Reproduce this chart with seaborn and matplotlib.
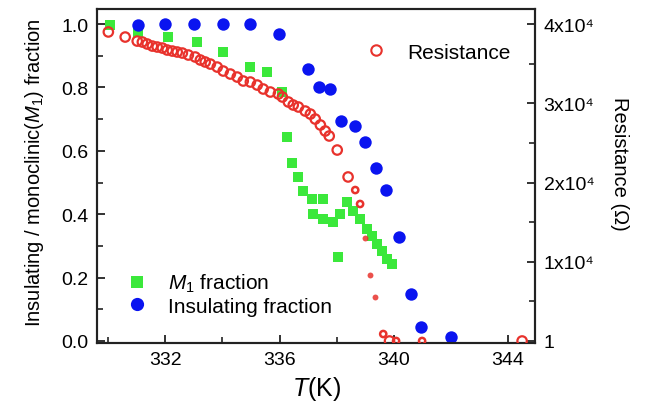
import matplotlib
matplotlib.use('Agg')
import matplotlib.pyplot as plt
import seaborn as sns
import pandas as pd
from matplotlib.lines import Line2D
from matplotlib.ticker import MultipleLocator, FixedLocator, FixedFormatter

# ---------------- data ----------------
insulating_T = [331.05, 331.99, 333.00, 334.02, 334.97, 335.98, 336.99, 337.38, 337.76,
                338.15, 338.64, 338.99, 339.37, 339.72, 340.17, 340.59, 340.94, 341.99]
insulating_frac = [0.997, 1.0, 1.0, 1.0, 1.0, 0.969, 0.858, 0.80, 0.796,
                   0.695, 0.679, 0.629, 0.547, 0.475, 0.327, 0.148, 0.044, 0.013]

m1_T = [330.07, 331.05, 332.10, 333.11, 334.02, 334.97, 335.56, 336.08, 336.26, 336.43,
        336.64, 336.82, 337.13, 337.52, 337.17, 337.52, 337.87, 338.11, 338.36, 338.57,
        338.81, 339.06, 339.23, 339.41, 339.58, 339.76, 339.93, 338.04]
m1_frac = [0.997, 0.975, 0.959, 0.943, 0.912, 0.865, 0.849, 0.786, 0.645, 0.563,
           0.516, 0.472, 0.447, 0.447, 0.400, 0.384, 0.374, 0.400, 0.437, 0.409,
           0.384, 0.352, 0.330, 0.305, 0.283, 0.258, 0.242, 0.264]

resistance_T = [330.01, 330.60, 331.02, 331.20, 331.37, 331.55, 331.72, 331.90, 332.07,
                332.25, 332.42, 332.60, 332.81, 333.05, 333.23, 333.40, 333.58, 333.82,
                334.03, 334.28, 334.52, 334.73, 334.98, 335.22, 335.43, 335.68, 335.96,
                336.10, 336.31, 336.48, 336.66, 336.90, 337.08, 337.25, 337.43, 337.60,
                337.74, 338.02, 338.40, 339.85, 344.49]
resistance_R = [39000, 38360, 37850, 37730, 37480, 37220, 37100, 36970, 36720,
                36590, 36470, 36340, 36090, 35840, 35460, 35210, 34950, 34570,
                34070, 33690, 33310, 32810, 32680, 32300, 31800, 31420, 31170,
                30790, 30160, 29780, 29530, 29020, 28640, 28010, 27260, 26500,
                25870, 24100, 20700, 1, 1]

resistance_tail_T = [338.65, 338.82, 339.63, 340.08, 340.99]
resistance_tail_R = [19050, 17290, 880, 1, 1]

resistance_drop_T = [339.00, 339.17, 339.35]
resistance_drop_R = [13000, 8330, 5550]

left_ticks = [0.0, 0.2, 0.4, 0.6, 0.8, 1.0]
x_ticks = [332, 336, 340, 344]
right_ticks = [0, 10000, 20000, 30000, 40000]
right_tick_labels = ['1', '1x10\u2074', '2x10\u2074', '3x10\u2074', '4x10\u2074']

# ---------------- style ----------------
sns.set_theme(style='ticks')
plt.rcParams['font.family'] = ['Liberation Sans', 'DejaVu Sans']
plt.rcParams['mathtext.fontset'] = 'custom'
plt.rcParams['mathtext.rm'] = 'Liberation Sans'
plt.rcParams['mathtext.it'] = 'Liberation Sans:italic'
plt.rcParams['text.color'] = 'black'
plt.rcParams['axes.labelcolor'] = 'black'
plt.rcParams['xtick.color'] = 'black'
plt.rcParams['ytick.color'] = 'black'

RED = '#e8322c'
GREEN = '#3be83b'
BLUE = '#0a14f0'
SPINE = '#222222'

fig = plt.figure(figsize=(6.48, 4.06), dpi=100)
ax = fig.add_axes([0.150, 0.153, 0.676, 0.822])
ax2 = ax.twinx()

df_ins = pd.DataFrame({'T': insulating_T, 'f': insulating_frac})
df_m1 = pd.DataFrame({'T': m1_T, 'f': m1_frac})
df_r = pd.DataFrame({'T': resistance_T, 'R': resistance_R})
df_rt = pd.DataFrame({'T': resistance_tail_T, 'R': resistance_tail_R})
df_rd = pd.DataFrame({'T': resistance_drop_T, 'R': resistance_drop_R})

sns.scatterplot(data=df_m1, x='T', y='f', ax=ax, marker='s', color=GREEN, s=62,
                linewidth=0, legend=False, zorder=2)
sns.scatterplot(data=df_ins, x='T', y='f', ax=ax, marker='o', color=BLUE, s=80,
                linewidth=0, legend=False, zorder=3)
sns.scatterplot(data=df_r, x='T', y='R', ax=ax2, marker='o', s=46, fc='none',
                ec=RED, linewidth=1.6, legend=False, zorder=4)
sns.scatterplot(data=df_rt, x='T', y='R', ax=ax2, marker='o', s=20, fc='none',
                ec=RED, linewidth=1.8, legend=False, zorder=4)
sns.scatterplot(data=df_rd, x='T', y='R', ax=ax2, marker='o', s=18, color=RED,
                alpha=0.85, linewidth=0, legend=False, zorder=4)

ax.set_xlim(329.62, 344.95)
ax.set_ylim(-0.006, 1.047)
ax2.set_ylim(-0.006 * 40000, 1.047 * 40000)

ax.xaxis.set_major_locator(FixedLocator(x_ticks))
ax.xaxis.set_minor_locator(MultipleLocator(2))
ax.yaxis.set_major_locator(FixedLocator(left_ticks))
ax.yaxis.set_major_formatter(FixedFormatter([f'{v:.1f}' for v in left_ticks]))
ax.yaxis.set_minor_locator(MultipleLocator(0.1))
ax2.yaxis.set_major_locator(FixedLocator(right_ticks))
ax2.yaxis.set_major_formatter(FixedFormatter(right_tick_labels))
ax2.yaxis.set_minor_locator(MultipleLocator(5000))

for a in (ax, ax2):
    for sp in a.spines.values():
        sp.set_linewidth(1.5)
        sp.set_color(SPINE)
        sp.set_visible(True)
ax.tick_params(axis='both', which='major', direction='in', length=6, width=1.3,
               color=SPINE, labelsize=14, pad=6, top=False, right=False)
ax.tick_params(axis='both', which='minor', direction='in', length=4, width=1.2,
               color=SPINE, top=False, right=False)
ax2.tick_params(axis='y', which='major', direction='in', length=6, width=1.3,
                color=SPINE, labelsize=14, pad=6)
ax2.tick_params(axis='y', which='minor', direction='in', length=4, width=1.2, color=SPINE)

ax.set_xlabel('$T$(K)', fontsize=18, labelpad=4)
ax.set_ylabel('Insulating / monoclinic($M_1$) fraction', fontsize=14.5)
ax.yaxis.set_label_coords(-0.118, 0.512)
ax2.set_ylabel('Resistance (\u03a9)', fontsize=14.5, rotation=270, va='bottom')
ax2.yaxis.set_label_coords(1.17, 0.54)

h_m1 = Line2D([], [], marker='s', ls='', color=GREEN, markersize=8.5, markeredgewidth=0)
h_ins = Line2D([], [], marker='o', ls='', color=BLUE, markersize=9.5, markeredgewidth=0)
leg1 = ax.legend([h_m1, h_ins], ['$M_1$ fraction', 'Insulating fraction'],
                 loc='center left', bbox_to_anchor=(0.0676, 0.147), frameon=False,
                 fontsize=15, handlelength=1.0, handletextpad=1.0, borderpad=0,
                 borderaxespad=0, labelspacing=0.1)
h_r = Line2D([], [], marker='o', ls='', markerfacecolor='none', markeredgecolor=RED,
             markersize=7.5, markeredgewidth=1.5)
leg2 = ax2.legend([h_r], ['Resistance'], loc='center left', bbox_to_anchor=(0.613, 0.871),
                  frameon=False, fontsize=15, handlelength=1.0, handletextpad=1.0,
                  borderpad=0, borderaxespad=0)

fig.savefig('out.png', dpi=100)
